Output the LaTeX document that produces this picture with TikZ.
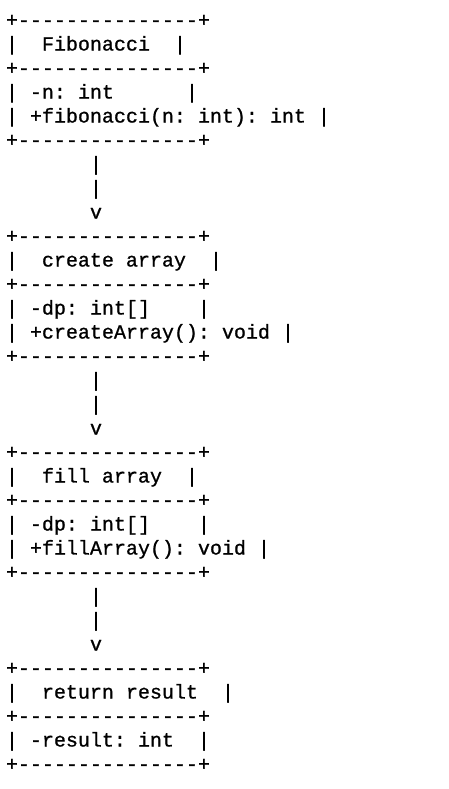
\documentclass[tikz,border=0pt]{standalone}
\usepackage{fontspec}
\newfontfamily\asciifont{Liberation Mono}[FakeBold=0.9]

\begin{document}
\begin{tikzpicture}[x=0.75pt, y=-0.75pt,
    row/.style={anchor=base west, inner sep=0pt, text=black, font=\asciifont\fontsize{15pt}{18pt}\selectfont}]
    \useasboundingbox (0,0) rectangle (449,789);

    \node [row] (fibTop) at (5.7,26.5) {+---------------+};
    \node [row] (fibName) at (5.7,50.5) {|~~Fibonacci~~|};
    \node [row] (fibMid) at (5.7,74.5) {+---------------+};
    \node [row] (fibAttr) at (5.7,98.5) {|~-n:~int~~~~~~|};
    \node [row] (fibOp) at (5.7,122.5) {|~+fibonacci(n:~int):~int~|};
    \node [row] (fibBot) at (5.7,146.5) {+---------------+};

    \node [row] (arrowA1) at (5.7,170.5) {~~~~~~~|};
    \node [row] (arrowA2) at (5.7,194.5) {~~~~~~~|};
    \node [row] (arrowA3) at (5.7,218.5) {~~~~~~~v};

    \node [row] (createTop) at (5.7,242.5) {+---------------+};
    \node [row] (createName) at (5.7,266.5) {|~~create~array~~|};
    \node [row] (createMid) at (5.7,290.5) {+---------------+};
    \node [row] (createAttr) at (5.7,314.5) {|~-dp:~int[]~~~~|};
    \node [row] (createOp) at (5.7,338.5) {|~+createArray():~void~|};
    \node [row] (createBot) at (5.7,362.5) {+---------------+};

    \node [row] (arrowB1) at (5.7,386.5) {~~~~~~~|};
    \node [row] (arrowB2) at (5.7,410.5) {~~~~~~~|};
    \node [row] (arrowB3) at (5.7,434.5) {~~~~~~~v};

    \node [row] (fillTop) at (5.7,458.5) {+---------------+};
    \node [row] (fillName) at (5.7,482.5) {|~~fill~array~~|};
    \node [row] (fillMid) at (5.7,506.5) {+---------------+};
    \node [row] (fillAttr) at (5.7,530.5) {|~-dp:~int[]~~~~|};
    \node [row] (fillOp) at (5.7,554.5) {|~+fillArray():~void~|};
    \node [row] (fillBot) at (5.7,578.5) {+---------------+};

    \node [row] (arrowC1) at (5.7,602.5) {~~~~~~~|};
    \node [row] (arrowC2) at (5.7,626.5) {~~~~~~~|};
    \node [row] (arrowC3) at (5.7,650.5) {~~~~~~~v};

    \node [row] (resultTop) at (5.7,674.5) {+---------------+};
    \node [row] (resultName) at (5.7,698.5) {|~~return~result~~|};
    \node [row] (resultMid) at (5.7,722.5) {+---------------+};
    \node [row] (resultAttr) at (5.7,746.5) {|~-result:~int~~|};
    \node [row] (resultBot) at (5.7,770.5) {+---------------+};
\end{tikzpicture}
\end{document}
